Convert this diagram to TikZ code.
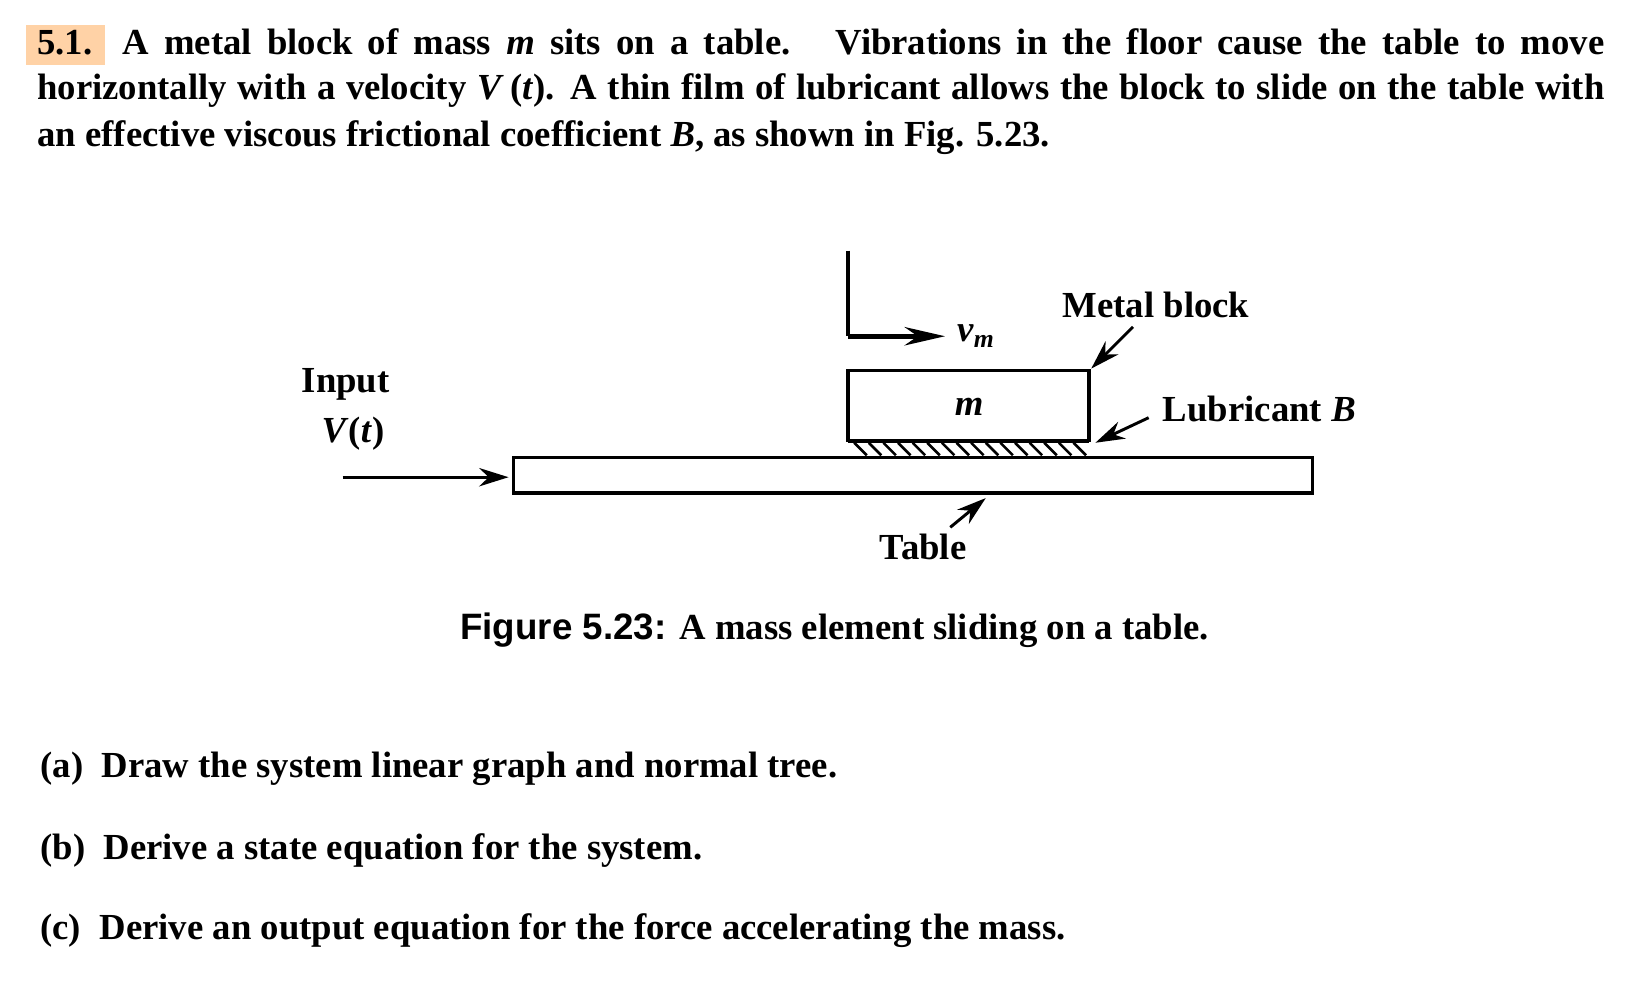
\documentclass[tikz,border=0pt]{standalone}
\usepackage{fontspec}
\setmainfont{Liberation Serif}
\newfontfamily\capfont{Liberation Sans}
\usetikzlibrary{arrows.meta}
\begin{document}
\begin{tikzpicture}[x=0.01cm,y=-0.01cm,
  txt/.style={font=\fontsize{10}{12}\selectfont\bfseries,inner sep=0pt},
  line/.style={line width=0.9pt},
  lab/.style={line width=0.8pt,-{Stealth[length=8pt,width=5pt]}},
  every node/.style={txt}]
\useasboundingbox (0,0) rectangle (1560,958);
\fill[orange!35] (25,24) rectangle (101,62);
\node[anchor=base west] (l1) at (35,52) {\makebox[15.0cm][s]{5.1. A metal block of mass \textit{m} sits on a table. \ Vibrations in the floor cause the table to move}};
\node[anchor=base west] (l2) at (35,95) {\makebox[15.0cm][s]{horizontally with a velocity \textit{V}\,(\textit{t}). A thin film of lubricant allows the block to slide on the table with}};
\node[anchor=base west] (l3) at (35,140) {an effective viscous frictional coefficient \textit{B}, as shown in Fig. 5.23.};
% L-shaped velocity indicator
\coordinate (Ltop) at (812,240);
\coordinate (Lc) at (812,322);
\coordinate (Ltip) at (905,322);
\draw[line width=1.3pt] (Ltop) -- (Lc);
\draw[line width=1.3pt,-{Stealth[length=11pt,width=5pt]}] (Lc) -- (Ltip);
\node (vm) at (935,322) {\textit{v}\textsubscript{\textit{m}}};
% block
\draw[line] (812,355) rectangle (1043,422);
\node (m) at (928,390) {\textit{m}};
\foreach \i in {0,...,15} \draw[line width=0.7pt] (818+14*\i,424) -- (830+14*\i,436);
\draw[line] (812,423) -- (1043,423);
% table
\draw[line] (492,438) rectangle (1257,472);
\node (tab) at (884,524) {Table};
\coordinate (tt) at (944,477);
\draw[lab] (910,505) -- (tt);
% input
\node (inp) at (331,368) {Input};
\node (vt) at (338,415) {\textit{V}(\textit{t})};
\coordinate (a0) at (328,457);
\coordinate (a1) at (487,457);
\draw[lab] (a0) -- (a1);
% labels
\node[anchor=west] (mb) at (1017,292) {Metal block};
\draw[lab] (1085,313) -- (1045,353);
\node[anchor=west] (lb) at (1113,392) {Lubricant \textit{B}};
\draw[lab] (1100,400) -- (1049,424);
% caption
\node[anchor=base west] (fig) at (440,612) {{\capfont\bfseries Figure 5.23:}};
\node[anchor=base west] (cap) at (650,612) {A mass element sliding on a table.};
\node[anchor=base west] (pa) at (38,745) {(a)\ \ Draw the system linear graph and normal tree.};
\node[anchor=base west] (pb) at (38,823) {(b)\ \ Derive a state equation for the system.};
\node[anchor=base west] (pc) at (38,900) {(c)\ \ Derive an output equation for the force accelerating the mass.};
\end{tikzpicture}
\end{document}
